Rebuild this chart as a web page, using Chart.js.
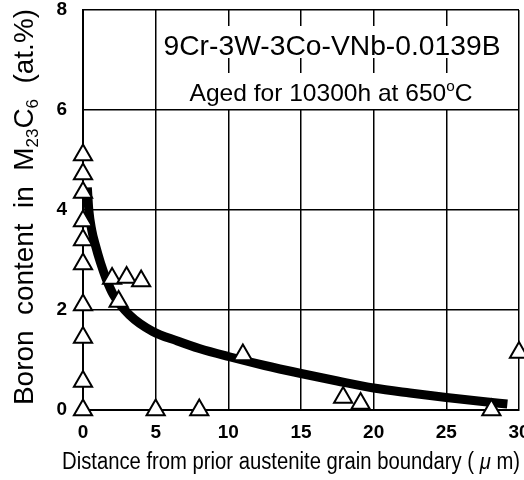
<!DOCTYPE html>
<html><head><meta charset="utf-8">
<script src="https://cdn.jsdelivr.net/npm/chart.js@4.4.1/dist/chart.umd.min.js"></script>
<style>html,body{margin:0;padding:0;background:#fff}#c{display:block}</style>
</head><body>
<canvas id="c" width="524" height="480"></canvas>
<script>
const xTicks = [0, 5, 10, 15, 20, 25, 30];
const yTicks = [0, 2, 4, 6, 8];
// measured boron content (open triangles)
const measX = [0, 0, 0, 0, 0, 0, 0, 0, 0, 0, 2.0, 3.0, 4.0, 2.45, 5.0, 8.0, 11.0, 17.9, 19.1, 28.1, 30.0];
const measY = [5.1, 4.72, 4.35, 3.78, 3.4, 2.92, 2.1, 1.45, 0.57, 0.0, 2.63, 2.65, 2.58, 2.17, 0.0, 0.0, 1.1, 0.25, 0.13, 0.0, 1.15];
// thick trend curve
const curveX = [0.3, 0.4, 0.6, 0.85, 1.2, 1.6, 2.1, 3.2, 4.8, 6.5, 8, 10, 12.5, 15, 17.5, 20, 22.5, 25, 27.5, 29.2];
const curveY = [4.45, 4.0, 3.6, 3.3, 2.95, 2.62, 2.3, 1.9, 1.57, 1.38, 1.23, 1.07, 0.89, 0.73, 0.58, 0.44, 0.34, 0.25, 0.17, 0.12];
const line1 = "9Cr-3W-3Co-VNb-0.0139B";
const line2a = "Aged for 10300h at 650", line2sup = "o", line2b = "C";

const FONT = "'Liberation Sans', Arial, sans-serif";

function fitText(ctx, parts, x, y, target, rotate) {
  let total = 0;
  parts.forEach(p => { ctx.font = p[1]; total += ctx.measureText(p[0]).width; });
  ctx.save();
  ctx.translate(x, y);
  if (rotate) ctx.rotate(rotate);
  ctx.scale(target / total, 1);
  let px = -total / 2;
  parts.forEach(p => { ctx.font = p[1]; ctx.fillText(p[0], px, p[2]); px += ctx.measureText(p[0]).width; });
  ctx.restore();
}

const textPlugin = {
  id: 'texts',
  afterDraw(chart) {
    const ctx = chart.ctx;
    ctx.save();
    ctx.fillStyle = '#fff';
    ctx.fillRect(160, 26, 356, 32);
    ctx.fillRect(160, 73, 356, 36);
    ctx.fillStyle = '#000';
    ctx.textBaseline = 'alphabetic';
    ctx.textAlign = 'left';
    fitText(ctx, [[line1, "28px " + FONT, 0]], 332, 55, 337, 0);
    fitText(ctx, [[line2a, "24px " + FONT, 0], [line2sup, "15px " + FONT, -10], [line2b, "24px " + FONT, 0]], 331, 101, 283, 0);

    fitText(ctx, [
      ["Boron  content  in  M", "28px " + FONT, 0],
      ["23", "17px " + FONT, 5],
      ["C", "28px " + FONT, 0],
      ["6", "17px " + FONT, 5],
      ["  (at.%)", "28px " + FONT, 0]
    ], 33, 207, 396, -Math.PI / 2);

    fitText(ctx, [
      ["Distance from prior austenite grain boundary ( ", "23px " + FONT, 0],
      ["\u03bc", "italic 23px " + FONT, 0],
      [" m)", "23px " + FONT, 0]
    ], 291, 469, 458, 0);
    ctx.restore();
  }
};

new Chart(document.getElementById('c'), {
  type: 'scatter',
  data: {
    datasets: [
      {
        type: 'line',
        data: curveX.map((x, i) => ({ x: x, y: curveY[i] })),
        borderColor: '#000',
        borderWidth: 9,
        pointRadius: 0,
        cubicInterpolationMode: 'monotone',
        borderCapStyle: 'butt',
        fill: false,
        order: 2
      },
      {
        data: measX.map((x, i) => ({ x: x, y: measY[i] })),
        pointStyle: 'triangle',
        pointRadius: 10.5,
        pointHoverRadius: 10.5,
        backgroundColor: '#fff',
        borderColor: '#000',
        borderWidth: 2,
        clip: false,
        order: 1
      }
    ]
  },
  options: {
    responsive: false,
    animation: false,
    devicePixelRatio: 1,
    layout: { autoPadding: false, padding: { top: 10, right: 5, left: 0, bottom: 0 } },
    plugins: { legend: { display: false }, tooltip: { enabled: false } },
    scales: {
      x: {
        type: 'linear', min: 0, max: 30,
        afterBuildTicks: s => { s.ticks = xTicks.map(v => ({ value: v })); },
        afterFit: s => { s.height = 70; s.paddingLeft = 0; s.paddingRight = 0; },
        ticks: { color: '#000', font: { family: FONT, size: 19, weight: 'bold' }, padding: 11, maxRotation: 0 },
        grid: { color: '#000', lineWidth: 1.5, drawTicks: false },
        border: { color: '#000', width: 2 }
      },
      y: {
        min: 0, max: 8,
        afterBuildTicks: s => { s.ticks = yTicks.map(v => ({ value: v })); },
        afterFit: s => { s.width = 83; s.paddingTop = 0; s.paddingBottom = 0; },
        ticks: { color: '#000', font: { family: FONT, size: 19, weight: 'bold' }, padding: 16 },
        grid: { color: '#000', lineWidth: 1.5, drawTicks: false },
        border: { color: '#000', width: 2 }
      }
    }
  },
  plugins: [textPlugin]
});
</script>
</body></html>
